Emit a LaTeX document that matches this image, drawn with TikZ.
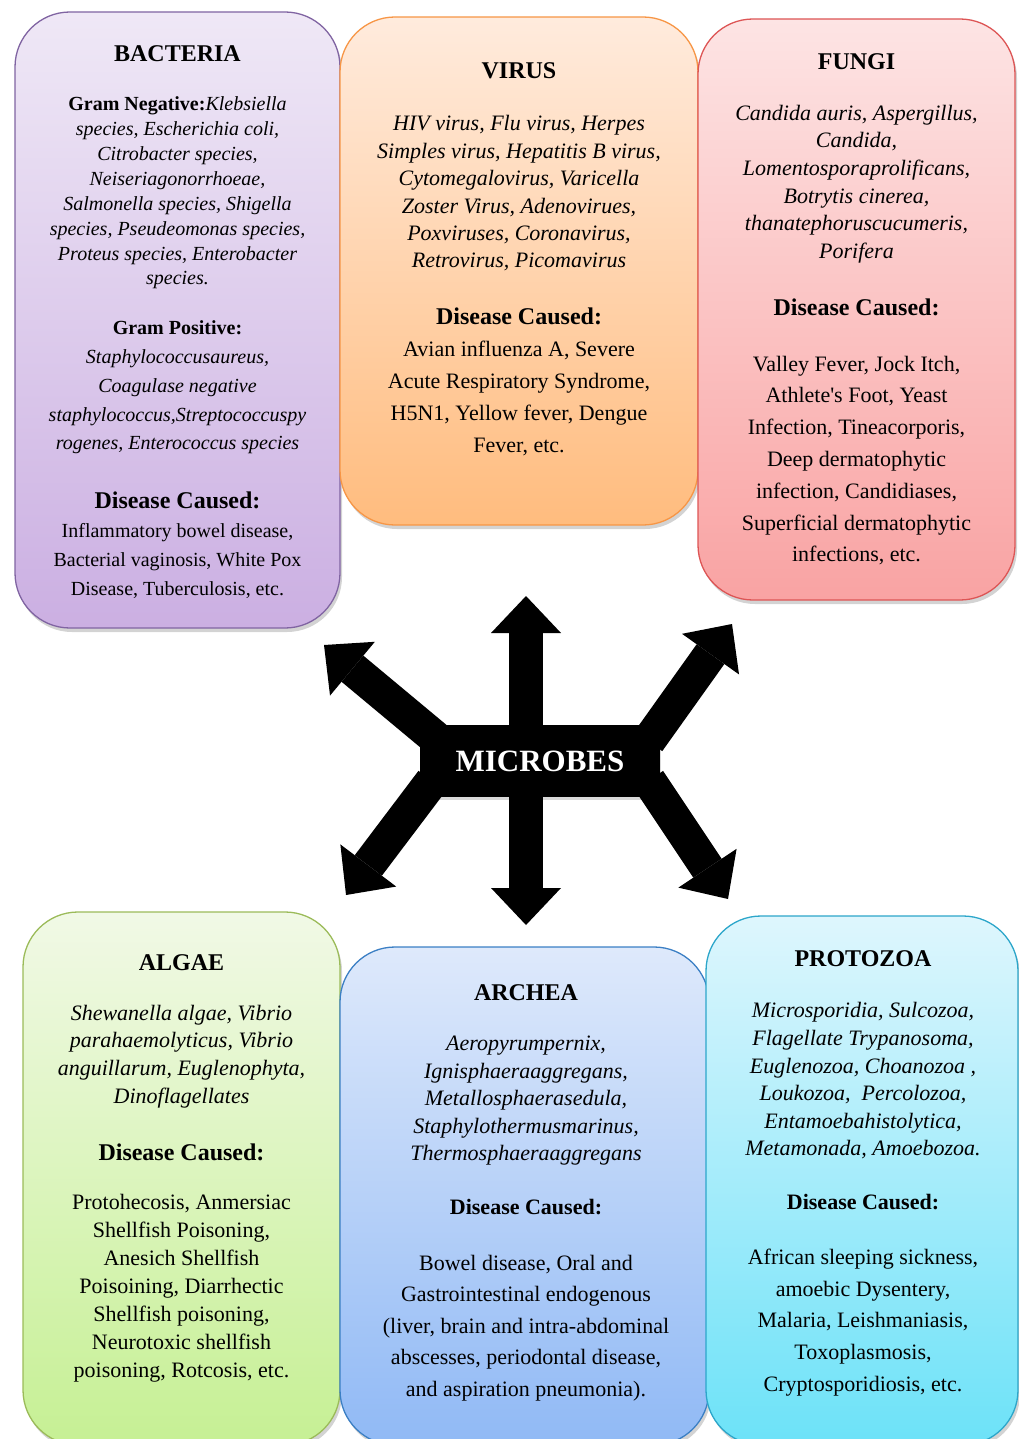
\documentclass[tikz,border=0pt]{standalone}
\usepackage{fontspec}
\setmainfont{Liberation Serif}
\usepackage{xcolor}
\usetikzlibrary{arrows.meta, calc, shadows}

\definecolor{bactLine}{HTML}{8064A2}
\definecolor{bactTop}{HTML}{EFE8F6}
\definecolor{bactBot}{HTML}{CBAFE2}
\definecolor{virLine}{HTML}{F79646}
\definecolor{virTop}{HTML}{FFEBDD}
\definecolor{virBot}{HTML}{FFBC7E}
\definecolor{fungLine}{HTML}{DD5555}
\definecolor{fungTop}{HTML}{FDE4E4}
\definecolor{fungBot}{HTML}{F9A3A3}
\definecolor{algLine}{HTML}{9BBB59}
\definecolor{algTop}{HTML}{F1F9E6}
\definecolor{algBot}{HTML}{C6F094}
\definecolor{archLine}{HTML}{3B7FC4}
\definecolor{archTop}{HTML}{DEE9FB}
\definecolor{archBot}{HTML}{90B9F5}
\definecolor{protLine}{HTML}{2CA6CA}
\definecolor{protTop}{HTML}{DEF6FD}
\definecolor{protBot}{HTML}{6CE2F8}

\newcommand\straightquote{\XeTeXglyph\XeTeXcharglyph"27\relax}

\tikzset{
	panel/.style={rounded corners=55pt, line width=1.3pt, inner sep=0pt, outer sep=0pt,
		drop shadow={shadow xshift=2pt, shadow yshift=-4pt, opacity=0.35}},
	panelhead/.style={font=\bfseries\fontsize{24}{28}\selectfont, inner sep=0pt},
	diseasehead/.style={font=\bfseries\fontsize{#1}{#1}\selectfont, inner sep=0pt},
	diseasehead/.default=24,
	spptext/.style 2 args={font=\itshape\fontsize{#1}{#2}\selectfont, align=center, inner sep=0pt},
	distext/.style 2 args={font=\fontsize{#1}{#2}\selectfont, align=center, inner sep=0pt},
	fatarrow/.style={black, line width=34pt, -{Triangle[length=37pt, width=70pt, line width=0pt]}}
}

\begin{document}
\begin{tikzpicture}[x=1pt, y=-1pt]
	\useasboundingbox (0,0) rectangle (1019,1439);
	\clip (0,0) rectangle (1019,1439);

	\node[panel, draw=bactLine, top color=bactTop, bottom color=bactBot, minimum width=325pt, minimum height=616pt] (bact) at (177.5,320) {};
	\node[panel, draw=virLine, top color=virTop, bottom color=virBot, minimum width=358pt, minimum height=508pt] (vir) at (519,271) {};
	\node[panel, draw=fungLine, top color=fungTop, bottom color=fungBot, minimum width=317pt, minimum height=581pt] (fung) at (856.5,309.5) {};
	\node[panel, draw=algLine, top color=algTop, bottom color=algBot, minimum width=317pt, minimum height=533pt] (alg) at (181.5,1178.5) {};
	\node[panel, draw=archLine, top color=archTop, bottom color=archBot, minimum width=369pt, minimum height=498pt] (arch) at (524.5,1196) {};
	\node[panel, draw=protLine, top color=protTop, bottom color=protBot, minimum width=312pt, minimum height=529pt] (prot) at (862,1180.5) {};

	\node[panelhead] (bactT) at (177.5,54) {BACTERIA};
	\node[spptext={20}{24.9}] (bactA) at (177.5,193) {{\upshape\bfseries Gram Negative:}Klebsiella\\ species, Escherichia coli,\\ Citrobacter species,\\ Neiseriagonorrhoeae,\\ Salmonella species, Shigella\\ species, Pseudeomonas species,\\ Proteus species, Enterobacter\\ species.};
	\node[spptext={20}{28.75}] (bactB) at (177.5,387.5) {{\upshape\bfseries Gram Positive:}\\ Staphylococcusaureus,\\ Coagulase negative\\ staphylococcus,Streptococcuspy\\ rogenes, Enterococcus species};
	\node[diseasehead] (bactH) at (177.5,500) {Disease Caused:};
	\node[distext={20}{29}] (bactD) at (177.5,561) {Inflammatory bowel disease,\\ Bacterial vaginosis, White Pox\\ Disease, Tuberculosis, etc.};

	\node[panelhead] (virT) at (519,71) {VIRUS};
	\node[spptext={22}{27.4}] (virA) at (519,193.5) {HIV virus, Flu virus, Herpes\\ Simples virus, Hepatitis B virus,\\ Cytomegalovirus, Varicella\\ Zoster Virus, Adenovirues,\\ Poxviruses, Coronavirus,\\ Retrovirus, Picomavirus};
	\node[diseasehead] (virH) at (519,316) {Disease Caused:};
	\node[distext={22}{32}] (virD) at (519,398) {Avian influenza A, Severe\\ Acute Respiratory Syndrome,\\ H5N1, Yellow fever, Dengue\\ Fever, etc.};

	\node[panelhead] (fungT) at (856.5,62) {FUNGI};
	\node[spptext={22}{27.6}] (fungA) at (856.5,184) {Candida auris, Aspergillus,\\ Candida,\\ Lomentosporaprolificans,\\ Botrytis cinerea,\\ thanatephoruscucumeris,\\ Porifera};
	\node[diseasehead] (fungH) at (856.5,307) {Disease Caused:};
	\node[distext={22}{31.8}] (fungD) at (856.5,460.5) {Valley Fever, Jock Itch,\\ Athlete\straightquote s Foot, Yeast\\ Infection, Tineacorporis,\\ Deep dermatophytic\\ infection, Candidiases,\\ Superficial dermatophytic\\ infections, etc.};

	\node[panelhead] (algT) at (181.5,963) {ALGAE};
	\node[spptext={22}{27.7}] (algA) at (181.5,1056.5) {Shewanella algae, Vibrio\\ parahaemolyticus, Vibrio\\ anguillarum, Euglenophyta,\\ Dinoflagellates};
	\node[diseasehead] (algH) at (181.5,1152) {Disease Caused:};
	\node[distext={22}{28}] (algD) at (181.5,1288) {Protohecosis, Anmersiac\\ Shellfish Poisoning,\\ Anesich Shellfish\\ Poisoining, Diarrhectic\\ Shellfish poisoning,\\ Neurotoxic shellfish\\ poisoning, Rotcosis, etc.};

	\node[panelhead] (archT) at (526,993) {ARCHEA};
	\node[spptext={22}{27.5}] (archA) at (526,1101) {Aeropyrumpernix,\\ Ignisphaeraaggregans,\\ Metallosphaerasedula,\\ Staphylothermusmarinus,\\ Thermosphaeraaggregans};
	\node[diseasehead=22] (archH) at (526,1207) {Disease Caused:};
	\node[distext={22}{31.5}] (archD) at (526,1328) {Bowel disease, Oral and\\ Gastrointestinal endogenous\\ (liver, brain and intra-abdominal\\ abscesses, periodontal disease,\\ and aspiration pneumonia).};

	\node[panelhead] (protT) at (863,959) {PROTOZOA};
	\node[spptext={22}{27.6}] (protA) at (863,1081) {Microsporidia, Sulcozoa,\\ Flagellate Trypanosoma,\\ Euglenozoa, Choanozoa ,\\ Loukozoa,~ Percolozoa,\\ Entamoebahistolytica,\\ Metamonada, Amoebozoa.};
	\node[diseasehead=22] (protH) at (863,1202) {Disease Caused:};
	\node[distext={22}{31.75}] (protD) at (863,1322.5) {African sleeping sickness,\\ amoebic Dysentery,\\ Malaria, Leishmaniasis,\\ Toxoplasmosis,\\ Cryptosporidiosis, etc.};

	\node[fill=black, text=white, font=\bfseries\fontsize{31}{31}\selectfont, minimum width=240pt, minimum height=72pt, inner sep=0pt, outer sep=0pt,
		drop shadow={shadow xshift=1pt, shadow yshift=-3pt, opacity=0.3}] (mic) at (540,761) {MICROBES};

	\coordinate (upT) at (526,596);
	\coordinate (dnT) at (526,925);
	\coordinate (ulT) at (324,645);
	\coordinate (urT) at (732,624);
	\coordinate (llT) at (346,895);
	\coordinate (lrT) at (728,899);

	\draw[fatarrow] ($(mic.north -| upT)+(0,5)$) -- (upT);
	\draw[fatarrow] ($(mic.south -| dnT)+(0,-5)$) -- (dnT);
	\draw[fatarrow] ($(mic.north west)!-20pt!(ulT)$) -- (ulT);
	\draw[fatarrow] ($(mic.north east)!-20pt!(urT)$) -- (urT);
	\draw[fatarrow] ($(mic.south west)!-20pt!(llT)$) -- (llT);
	\draw[fatarrow] ($(mic.south east)!-20pt!(lrT)$) -- (lrT);
\end{tikzpicture}
\end{document}
